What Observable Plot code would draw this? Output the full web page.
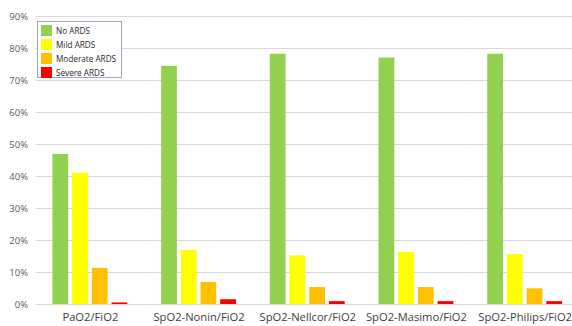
<!DOCTYPE html>
<html>
<head>
<meta charset="utf-8">
<script src="https://cdn.jsdelivr.net/npm/d3@7"></script>
<script src="https://cdn.jsdelivr.net/npm/@observablehq/plot@0.6"></script>
<style>
  html, body { margin: 0; padding: 0; background: #fff; }
  #wrap { position: relative; width: 572px; height: 326px; overflow: hidden; font-family: "Open Sans", sans-serif; }
  #legend { position: absolute; left: 37px; top: 21px; width: 85px; height: 57px; border: 1px solid #9aa6c4; background: #fff; box-sizing: border-box; padding: 1px 0 0 3px; }
  .item { display: flex; align-items: center; height: 14px; font-size: 8.2px; color: #262626; white-space: nowrap; }
  .sw { width: 11px; height: 11px; margin-right: 4px; flex: none; }
</style>
</head>
<body>
<div id="wrap"></div>
<script>
const groups = ["PaO2/FiO2", "SpO2-Nonin/FiO2", "SpO2-Nellcor/FiO2", "SpO2-Masimo/FiO2", "SpO2-Philips/FiO2"];
const series = ["No ARDS", "Mild ARDS", "Moderate ARDS", "Severe ARDS"];
const colors = ["#92d050", "#ffff00", "#ffc000", "#ff0000"];
const noArds = [0.469, 0.744, 0.782, 0.770, 0.782];
const mildArds = [0.410, 0.169, 0.152, 0.163, 0.156];
const moderateArds = [0.113, 0.069, 0.053, 0.053, 0.049];
const severeArds = [0.005, 0.015, 0.009, 0.009, 0.009];
const yTicks = [0, 0.1, 0.2, 0.3, 0.4, 0.5, 0.6, 0.7, 0.8, 0.9];

const valuesBySeries = [noArds, mildArds, moderateArds, severeArds];
const data = [];
groups.forEach((g, gi) => series.forEach((s, si) => data.push({group: g, series: s, value: valuesBySeries[si][gi]})));

const chart = Plot.plot({
  width: 572,
  height: 326,
  marginTop: 16,
  marginBottom: 22,
  marginLeft: 35,
  marginRight: 0,
  style: {fontFamily: "Open Sans, sans-serif", background: "transparent"},
  fx: {domain: groups, range: [35.5, 579], paddingInner: 0, paddingOuter: 0, round: false, label: null},
  x: {domain: series, paddingInner: 0.2, paddingOuter: 0.86, round: false, axis: null},
  y: {domain: [0, 0.9], axis: null},
  color: {domain: series, range: colors},
  marks: [
    Plot.gridY(yTicks, {stroke: "#d9d9d9", strokeOpacity: 1}),
    Plot.axisY(yTicks, {anchor: "left", tickSize: 0, tickPadding: 8, tickFormat: d3.format(".0%"), label: null, fontSize: 9.5, fill: "#595959"}),
    Plot.axisFx({anchor: "bottom", tickSize: 0, tickPadding: 9, label: null, fontSize: 11.2, fill: "#404040"}),
    Plot.barY(data, {fx: "group", x: "series", y: "value", fill: "series"})
  ]
});
const wrap = document.getElementById("wrap");
wrap.appendChild(chart);

const legend = document.createElement("div");
legend.id = "legend";
series.forEach((s, i) => {
  const item = document.createElement("div");
  item.className = "item";
  const sw = document.createElement("span");
  sw.className = "sw";
  sw.style.background = colors[i];
  item.appendChild(sw);
  item.appendChild(document.createTextNode(s));
  legend.appendChild(item);
});
wrap.appendChild(legend);
</script>
</body>
</html>
